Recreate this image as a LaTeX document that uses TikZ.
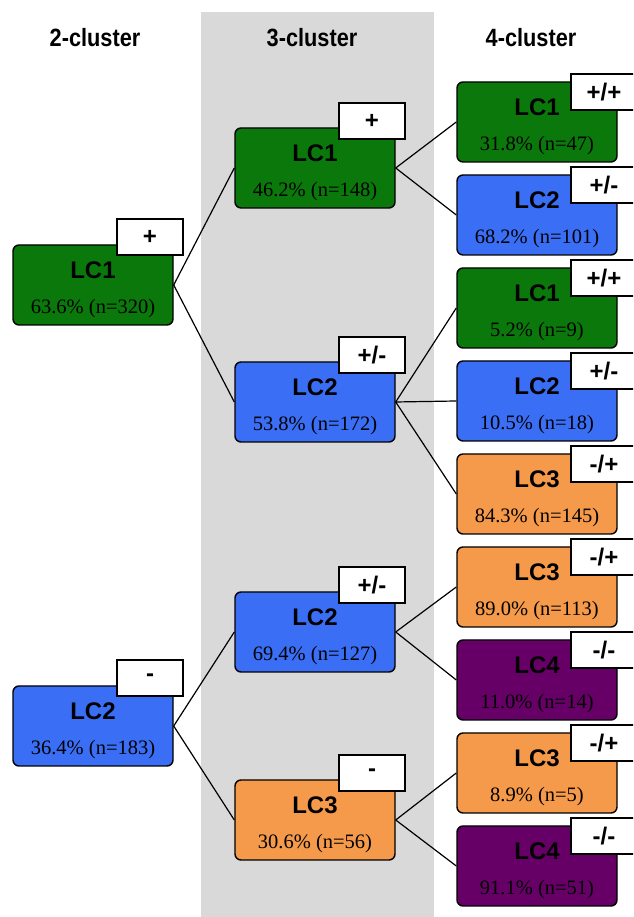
\documentclass[tikz,border=0pt]{standalone}
\usepackage{fontspec}
\setmainfont{Liberation Serif}
\setsansfont{Liberation Sans}
\usepackage{graphicx}
\usepackage{tikz}
\definecolor{lcgreen}{RGB}{10,120,10}
\definecolor{lcblue}{RGB}{58,110,245}
\definecolor{lcorange}{RGB}{245,153,74}
\definecolor{lcpurple}{RGB}{102,0,102}
\definecolor{bandgray}{RGB}{217,217,217}
\newcommand{\lctext}[2]{{\fontsize{24}{24}\selectfont\sffamily\bfseries\rule{0pt}{27pt}#1}\\#2}
\tikzset{
	lcbox/.style={draw=black, line width=1.4pt, rounded corners=6pt, minimum width=160pt, minimum height=80pt, inner sep=0pt, align=center, font=\fontsize{20.5}{35}\selectfont},
	tagbox/.style={draw=black, fill=white, line width=1.4pt, minimum width=66pt, minimum height=36pt, inner sep=0pt, font=\fontsize{24}{24}\selectfont\sffamily\bfseries},
	coltitle/.style={font=\fontsize{25}{25}\selectfont\sffamily\bfseries},
	link/.style={line width=1.2pt}
}

\begin{document}
\begin{tikzpicture}[x=1pt, y=1pt]
			\useasboundingbox (0,0) rectangle (633,917);
			\clip (0,0) rectangle (633,917);
			\fill[bandgray] (201,0) rectangle (434,905);
			\node[coltitle] (t2) at (95,879) {\scalebox{0.87}[1]{2-cluster}};
			\node[coltitle] (t3) at (312,879) {\scalebox{0.87}[1]{3-cluster}};
			\node[coltitle] (t4) at (531,879) {\scalebox{0.87}[1]{4-cluster}};
			\node[lcbox, fill=lcgreen] (a1) at (93,632) {\lctext{LC1}{63.6\% (n=320)}};
			\node[lcbox, fill=lcblue] (a2) at (93,191) {\lctext{LC2}{36.4\% (n=183)}};
			\node[lcbox, fill=lcgreen] (b1) at (315,749) {\lctext{LC1}{46.2\% (n=148)}};
			\node[lcbox, fill=lcblue] (b2) at (315,515) {\lctext{LC2}{53.8\% (n=172)}};
			\node[lcbox, fill=lcblue] (b3) at (315,285) {\lctext{LC2}{69.4\% (n=127)}};
			\node[lcbox, fill=lcorange] (b4) at (315,97) {\lctext{LC3}{30.6\% (n=56)}};
			\node[lcbox, fill=lcgreen] (c1) at (537,795) {\lctext{LC1}{31.8\% (n=47)}};
			\node[lcbox, fill=lcblue] (c2) at (537,702) {\lctext{LC2}{68.2\% (n=101)}};
			\node[lcbox, fill=lcgreen] (c3) at (537,609) {\lctext{LC1}{5.2\% (n=9)}};
			\node[lcbox, fill=lcblue] (c4) at (537,516) {\lctext{LC2}{10.5\% (n=18)}};
			\node[lcbox, fill=lcorange] (c5) at (537,423) {\lctext{LC3}{84.3\% (n=145)}};
			\node[lcbox, fill=lcorange] (c6) at (537,330) {\lctext{LC3}{89.0\% (n=113)}};
			\node[lcbox, fill=lcpurple] (c7) at (537,237) {\lctext{LC4}{11.0\% (n=14)}};
			\node[lcbox, fill=lcorange] (c8) at (537,144) {\lctext{LC3}{8.9\% (n=5)}};
			\node[lcbox, fill=lcpurple] (c9) at (537,51) {\lctext{LC4}{91.1\% (n=51)}};
			\node[tagbox] (a1t) at ([shift={(57,48)}]a1.center) {+};
			\node[tagbox] (a2t) at ([shift={(57,48)}]a2.center) {-};
			\node[tagbox] (b1t) at ([shift={(57,47)}]b1.center) {+};
			\node[tagbox] (b2t) at ([shift={(57,47)}]b2.center) {+/-};
			\node[tagbox] (b3t) at ([shift={(57,47)}]b3.center) {+/-};
			\node[tagbox] (b4t) at ([shift={(57,47)}]b4.center) {-};
			\node[tagbox] (c1t) at ([shift={(67,30)}]c1.center) {+/+};
			\node[tagbox] (c2t) at ([shift={(67,30)}]c2.center) {+/-};
			\node[tagbox] (c3t) at ([shift={(67,30)}]c3.center) {+/+};
			\node[tagbox] (c4t) at ([shift={(67,30)}]c4.center) {+/-};
			\node[tagbox] (c5t) at ([shift={(67,30)}]c5.center) {-/+};
			\node[tagbox] (c6t) at ([shift={(67,30)}]c6.center) {-/+};
			\node[tagbox] (c7t) at ([shift={(67,30)}]c7.center) {-/-};
			\node[tagbox] (c8t) at ([shift={(67,30)}]c8.center) {-/+};
			\node[tagbox] (c9t) at ([shift={(67,30)}]c9.center) {-/-};
			\draw[link] (a1.east) -- (b1.west);
			\draw[link] (a1.east) -- (b2.west);
			\draw[link] (a2.east) -- (b3.west);
			\draw[link] (a2.east) -- (b4.west);
			\draw[link] (b1.east) -- (c1.west);
			\draw[link] (b1.east) -- (c2.west);
			\draw[link] (b2.east) -- (c3.west);
			\draw[link] (b2.east) -- (c4.west);
			\draw[link] (b2.east) -- (c5.west);
			\draw[link] (b3.east) -- (c6.west);
			\draw[link] (b3.east) -- (c7.west);
			\draw[link] (b4.east) -- (c8.west);
			\draw[link] (b4.east) -- (c9.west);
		\end{tikzpicture}
\end{document}
